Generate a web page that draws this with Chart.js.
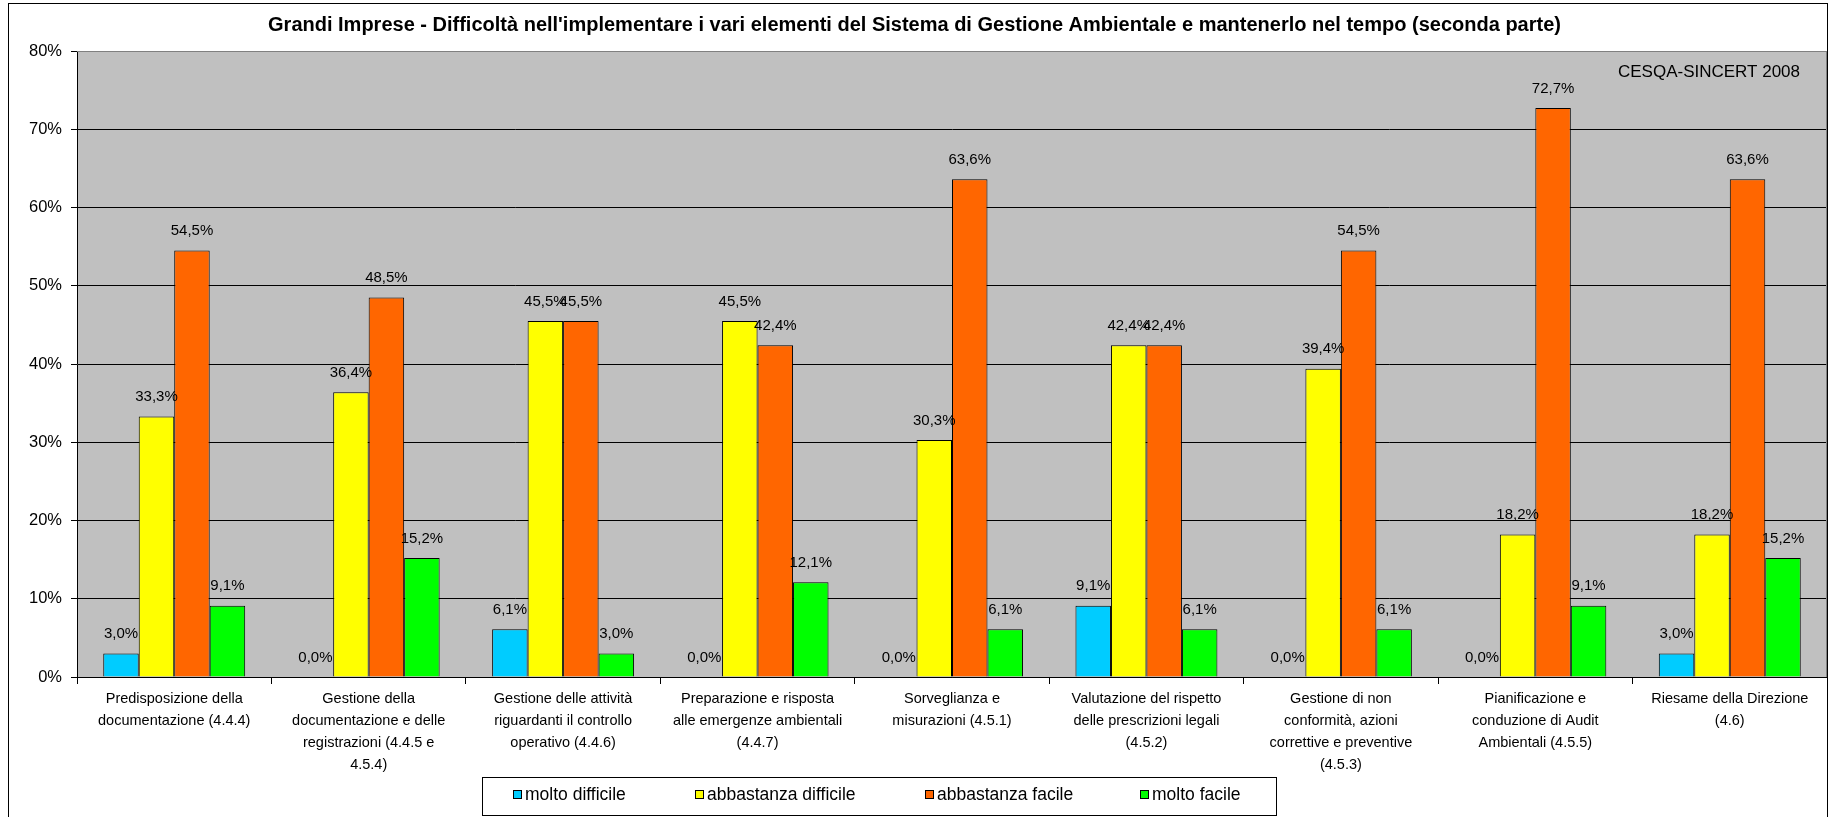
<!DOCTYPE html>
<html>
<head>
<meta charset="utf-8">
<script src="https://cdn.jsdelivr.net/npm/chart.js@4/dist/chart.umd.min.js"></script>
<style>
  html, body { margin: 0; padding: 0; background: #fff; }
  canvas { display: block; }
</style>
</head>
<body>
<canvas id="chart" width="1829" height="817"></canvas>
<script>
const chartTitle = "Grandi Imprese - Difficoltà nell'implementare i vari elementi del Sistema di Gestione Ambientale e mantenerlo nel tempo (seconda parte)";
const sourceNote = 'CESQA-SINCERT 2008';

const categories = [
  ['Predisposizione della', 'documentazione (4.4.4)'],
  ['Gestione della', 'documentazione e delle', 'registrazioni (4.4.5 e', '4.5.4)'],
  ['Gestione delle attività', 'riguardanti il controllo', 'operativo (4.4.6)'],
  ['Preparazione e risposta', 'alle emergenze ambientali', '(4.4.7)'],
  ['Sorveglianza e', 'misurazioni (4.5.1)'],
  ['Valutazione del rispetto', 'delle prescrizioni legali', '(4.5.2)'],
  ['Gestione di non', 'conformità, azioni', 'correttive e preventive', '(4.5.3)'],
  ['Pianificazione e', 'conduzione di Audit', 'Ambientali (4.5.5)'],
  ['Riesame della Direzione', '(4.6)'],
];

const seriesNames = ['molto difficile', 'abbastanza difficile', 'abbastanza facile', 'molto facile'];
const moltoDifficile = [3.0, 0.0, 6.1, 0.0, 0.0, 9.1, 0.0, 0.0, 3.0];
const abbastanzaDifficile = [33.3, 36.4, 45.5, 45.5, 30.3, 42.4, 39.4, 18.2, 18.2];
const abbastanzaFacile = [54.5, 48.5, 45.5, 42.4, 63.6, 42.4, 54.5, 72.7, 63.6];
const moltoFacile = [9.1, 15.2, 3.0, 12.1, 6.1, 6.1, 6.1, 9.1, 15.2];

const yTicks = [0, 10, 20, 30, 40, 50, 60, 70, 80];

const colors = ['#00CCFF', '#FFFF00', '#FF6600', '#00FF00'];
const FONT = '"Liberation Sans", Arial, sans-serif';

const fmt = v => v.toFixed(1).replace('.', ',') + '%';

// plot background, frame, title, note, value labels and the boxed legend
const excelLook = {
  id: 'excelLook',
  beforeDraw(chart) {
    const { ctx, chartArea: a } = chart;
    ctx.save();
    ctx.fillStyle = '#fff';
    ctx.fillRect(0, 0, chart.width, chart.height);
    ctx.strokeStyle = '#000';
    ctx.lineWidth = 1;
    ctx.strokeRect(8.5, 3.5, 1819, 900);
    ctx.fillStyle = '#C0C0C0';
    ctx.fillRect(a.left, a.top, a.right - a.left, a.bottom - a.top);
    ctx.restore();
  },
  beforeDatasetsDraw(chart) {
    const { ctx, chartArea: a } = chart;
    ctx.save();
    ctx.strokeStyle = '#808080';
    ctx.lineWidth = 1;
    ctx.beginPath();
    ctx.moveTo(a.left, Math.round(a.top) + 0.5);
    ctx.lineTo(Math.round(a.right) - 0.5, Math.round(a.top) + 0.5);
    ctx.lineTo(Math.round(a.right) - 0.5, a.bottom);
    ctx.stroke();
    ctx.restore();
  },
  afterDatasetsDraw(chart) {
    const { ctx } = chart;
    ctx.save();
    ctx.font = '15px ' + FONT;
    ctx.fillStyle = '#000';
    ctx.textAlign = 'center';
    ctx.textBaseline = 'middle';
    chart.data.datasets.forEach((ds, i) => {
      chart.getDatasetMeta(i).data.forEach((bar, j) => {
        ctx.fillText(fmt(ds.data[j]), bar.x, bar.y - 19.5);
      });
    });
    ctx.restore();
  },
  afterDraw(chart) {
    const { ctx, chartArea: a } = chart;
    ctx.save();
    ctx.fillStyle = '#000';
    ctx.textBaseline = 'middle';

    ctx.font = 'bold 20px ' + FONT;
    ctx.textAlign = 'center';
    ctx.fillText(chartTitle, chart.width / 2, 25);

    ctx.font = '17px ' + FONT;
    ctx.textAlign = 'right';
    ctx.fillText(sourceNote, a.right - 27, a.top + 21.5);

    // legend
    const lx = 482.5, ly = 777.5, lw = 794, lh = 38;
    ctx.fillStyle = '#fff';
    ctx.fillRect(lx, ly, lw, lh);
    ctx.strokeStyle = '#000';
    ctx.lineWidth = 1;
    ctx.strokeRect(lx, ly, lw, lh);
    const itemX = [513, 695, 925, 1140];
    ctx.font = '17.5px ' + FONT;
    ctx.textAlign = 'left';
    chart.data.datasets.forEach((ds, i) => {
      const x = itemX[i];
      ctx.fillStyle = ds.backgroundColor;
      ctx.fillRect(x + 0.5, 790.5, 8, 8);
      ctx.strokeRect(x + 0.5, 790.5, 8, 8);
      ctx.fillStyle = '#000';
      ctx.fillText(ds.label, x + 12, 795);
    });
    ctx.restore();
  }
};

const seriesData = [moltoDifficile, abbastanzaDifficile, abbastanzaFacile, moltoFacile];

new Chart(document.getElementById('chart'), {
  type: 'bar',
  data: {
    labels: categories,
    datasets: seriesNames.map((name, i) => ({
      label: name,
      data: seriesData[i],
      backgroundColor: colors[i],
      borderColor: '#000',
      borderWidth: 1,
      borderSkipped: 'bottom',
      barPercentage: 1.0,
      categoryPercentage: 0.73,
    })),
  },
  options: {
    responsive: false,
    animation: false,
    devicePixelRatio: 1,
    layout: { padding: { top: 51, right: 2, bottom: 0, left: 0 } },
    plugins: {
      legend: { display: false },
      title: { display: false },
      tooltip: { enabled: false },
    },
    scales: {
      x: {
        offset: true,
        grid: {
          offset: true,
          drawOnChartArea: false,
          drawTicks: true,
          tickLength: 7,
          color: '#000',
        },
        border: { display: true, color: '#000', width: 1 },
        ticks: {
          autoSkip: false,
          maxRotation: 0,
          minRotation: 0,
          padding: 4,
          color: '#000',
          font: { family: FONT, size: 14.5, lineHeight: '22px' },
        },
        afterFit(scale) { scale.height = 140; },
      },
      y: {
        min: 0,
        max: 80,
        afterBuildTicks(scale) { scale.ticks = yTicks.map(v => ({ value: v })); },
        grid: {
          color: ctx => (ctx.tick && ctx.tick.value === 80 ? '#808080' : '#000'),
          tickColor: '#000',
          tickLength: 6,
          lineWidth: 1,
        },
        border: { display: true, color: '#000', width: 1 },
        ticks: {
          padding: 9,
          color: '#000',
          font: { family: FONT, size: 16.5 },
          callback: v => v + '%',
        },
        afterFit(scale) { scale.width = 77; },
      },
    },
  },
  plugins: [excelLook],
});
</script>
</body>
</html>
